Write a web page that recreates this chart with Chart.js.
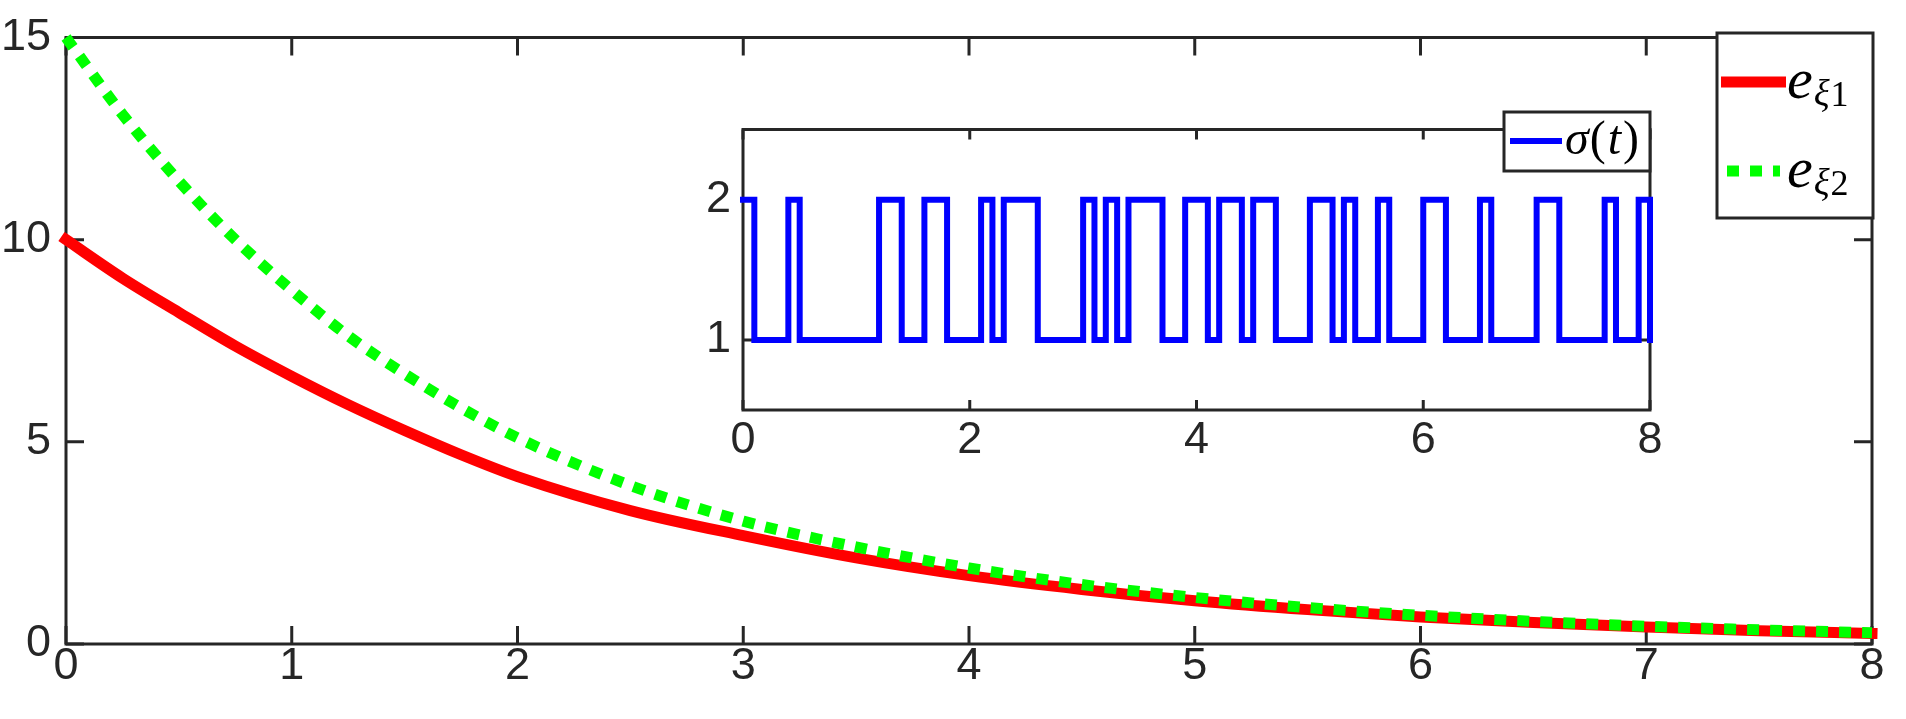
<!DOCTYPE html>
<html>
<head>
<meta charset="utf-8">
<script src="https://cdn.jsdelivr.net/npm/chart.js@4"></script>
<style>
  html, body { margin: 0; padding: 0; background: #fff; overflow: hidden; }
  #main { position: absolute; left: 0; top: 0; }
  #inset { position: absolute; left: 680px; top: 95px; }
</style>
</head>
<body>
<canvas id="main" width="1906" height="719"></canvas>
<canvas id="inset" width="1000" height="390"></canvas>
<script>
// main plot: error curves
const time = [0, 0.25, 0.5, 0.75, 1, 1.25, 1.5, 1.75, 2, 2.5, 3, 3.5, 4, 4.5, 5, 5.5, 6, 6.5, 7, 7.5, 8];
const eXi1 = [10, 9.05, 8.2, 7.37, 6.62, 5.92, 5.28, 4.68, 4.14, 3.3, 2.68, 2.13, 1.69, 1.35, 1.07, 0.85, 0.67, 0.53, 0.42, 0.33, 0.26];
const eXi2 = [15, 13.1, 11.45, 10.0, 8.75, 7.62, 6.68, 5.84, 5.1, 3.92, 3.04, 2.4, 1.88, 1.47, 1.15, 0.9, 0.71, 0.56, 0.44, 0.35, 0.28];

// inset: switching signal, value held from each switching time
const switchTime = [0, 0.1, 0.4, 0.5, 1.2, 1.4, 1.6, 1.8, 2.1, 2.2, 2.3, 2.6, 3.0, 3.1, 3.2, 3.3, 3.4, 3.7, 3.9, 4.1,
  4.2, 4.4, 4.5, 4.7, 5.0, 5.2, 5.3, 5.4, 5.6, 5.7, 6.0, 6.2, 6.5, 6.6, 7.0, 7.2, 7.6, 7.7, 7.9, 8.0];
const sigma = [2, 1, 2, 1, 2, 1, 2, 1, 2, 1, 2, 1, 2, 1, 2, 1, 2, 1, 2, 1,
  2, 1, 2, 1, 2, 1, 2, 1, 2, 1, 2, 1, 2, 1, 2, 1, 2, 1, 2, 1];

const mainXTicks = [0, 1, 2, 3, 4, 5, 6, 7, 8];
const mainYTicks = [0, 5, 10, 15];
const insetXTicks = [0, 2, 4, 6, 8];
const insetYTicks = [1, 2];

const axisColor = '#262626';
const tickFont = { family: '"Liberation Sans", Arial, sans-serif', size: 45, lineHeight: 1 };
const serif = '"Liberation Serif", "DejaVu Serif", serif';

// box round the plot area with inward ticks on all four sides (MATLAB style)
const boxPlugin = {
  id: 'matlabBox',
  beforeDraw(chart, args, o) {
    if (o.fill) {
      const a = chart.chartArea;
      chart.ctx.save();
      chart.ctx.fillStyle = o.fill;
      chart.ctx.fillRect(a.left, a.top, a.right - a.left, a.bottom - a.top);
      chart.ctx.restore();
    }
  },
  beforeDatasetsDraw(chart, args, o) {
    const { ctx, chartArea: a } = chart;
    const x = chart.scales.x, y = chart.scales.y;
    ctx.save();
    ctx.strokeStyle = axisColor;
    ctx.lineWidth = o.width;
    ctx.beginPath();
    x.ticks.forEach(t => {
      const px = x.getPixelForValue(t.value);
      ctx.moveTo(px, a.bottom); ctx.lineTo(px, a.bottom - o.len);
      ctx.moveTo(px, a.top); ctx.lineTo(px, a.top + o.len);
    });
    y.ticks.forEach(t => {
      const py = y.getPixelForValue(t.value);
      ctx.moveTo(a.left, py); ctx.lineTo(a.left + o.len, py);
      ctx.moveTo(a.right, py); ctx.lineTo(a.right - o.len, py);
    });
    ctx.stroke();
    ctx.strokeRect(a.left, a.top, a.right - a.left, a.bottom - a.top);
    ctx.restore();
  }
};

// legend with italic math labels and subscripts
const mathLegend = {
  id: 'mathLegend',
  afterDraw(chart, args, o) {
    const ctx = chart.ctx;
    ctx.save();
    ctx.fillStyle = '#fff';
    ctx.fillRect(o.x, o.y, o.w, o.h);
    ctx.strokeStyle = axisColor;
    ctx.lineWidth = 3;
    ctx.strokeRect(o.x, o.y, o.w, o.h);
    o.items.forEach(item => {
      const ds = chart.data.datasets[item.ds];
      ctx.save();
      ctx.strokeStyle = ds.borderColor;
      ctx.lineWidth = ds.borderWidth;
      ctx.setLineDash(ds.borderDash || []);
      ctx.lineCap = 'butt';
      ctx.beginPath();
      ctx.moveTo(item.x1, item.y);
      ctx.lineTo(item.x2, item.y);
      ctx.stroke();
      ctx.restore();
      let tx = item.tx;
      ctx.fillStyle = '#000';
      ctx.textBaseline = 'alphabetic';
      item.parts.forEach(p => {
        ctx.font = p.font;
        ctx.fillText(p.t, tx, item.base + (p.dy || 0));
        tx += ctx.measureText(p.t).width + (p.kern || 0);
      });
    });
    ctx.restore();
  }
};

function fixedTicks(list) {
  return scale => { scale.ticks = list.map(v => ({ value: v })); };
}

new Chart(document.getElementById('main'), {
  type: 'line',
  data: {
    datasets: [{
      label: 'e_xi1',
      data: time.map((t, i) => ({ x: t, y: eXi1[i] })),
      borderColor: '#ff0000',
      borderWidth: 11,
      borderCapStyle: 'square',
      cubicInterpolationMode: 'monotone',
      pointRadius: 0,
      clip: false,
      order: 1
    }, {
      label: 'e_xi2',
      data: time.map((t, i) => ({ x: t, y: eXi2[i] })),
      borderColor: '#00ff00',
      borderWidth: 11,
      borderDash: [12, 11],
      cubicInterpolationMode: 'monotone',
      pointRadius: 0,
      clip: false,
      order: 0
    }]
  },
  options: {
    responsive: false,
    animation: false,
    layout: { padding: { top: 33, right: 34, left: 0, bottom: 0 } },
    scales: {
      x: {
        type: 'linear', min: 0, max: 8,
        afterBuildTicks: fixedTicks(mainXTicks),
        afterFit: s => { s.height = 75; },
        grid: { display: false, drawTicks: false },
        border: { display: false },
        ticks: { font: tickFont, color: axisColor, padding: 0, maxRotation: 0, autoSkip: false }
      },
      y: {
        type: 'linear', min: 0, max: 15,
        afterBuildTicks: fixedTicks(mainYTicks),
        afterFit: s => { s.width = 66; },
        grid: { display: false, drawTicks: false },
        border: { display: false },
        ticks: { font: tickFont, color: axisColor, padding: 15, autoSkip: false }
      }
    },
    plugins: {
      legend: { display: false },
      tooltip: { enabled: false },
      matlabBox: { width: 3, len: 18 },
      mathLegend: {
        x: 1717, y: 33, w: 156, h: 185,
        items: [
          { ds: 0, x1: 1721, x2: 1786, y: 82, tx: 1787, base: 98,
            parts: [
              { t: 'e', font: 'italic 58px ' + serif, kern: 1 },
              { t: 'ξ', font: 'italic 37px ' + serif, dy: 8, kern: 1 },
              { t: '1', font: '36px ' + serif, dy: 8 }
            ] },
          { ds: 1, x1: 1727, x2: 1780, y: 171, tx: 1787, base: 187,
            parts: [
              { t: 'e', font: 'italic 58px ' + serif, kern: 1 },
              { t: 'ξ', font: 'italic 37px ' + serif, dy: 8, kern: 1 },
              { t: '2', font: '36px ' + serif, dy: 8 }
            ] }
        ]
      }
    }
  },
  plugins: [boxPlugin, mathLegend]
});

new Chart(document.getElementById('inset'), {
  type: 'line',
  data: {
    datasets: [{
      label: 'sigma',
      data: switchTime.map((t, i) => ({ x: t, y: sigma[i] })),
      borderColor: '#0000ff',
      borderWidth: 6,
      borderCapStyle: 'square',
      borderJoinStyle: 'miter',
      stepped: true,
      pointRadius: 0,
      clip: false
    }]
  },
  options: {
    responsive: false,
    animation: false,
    layout: { padding: { top: 14, right: 30, left: 0, bottom: 0 } },
    scales: {
      x: {
        type: 'linear', min: 0, max: 8,
        afterBuildTicks: fixedTicks(insetXTicks),
        afterFit: s => { s.height = 75; },
        grid: { display: false, drawTicks: false },
        border: { display: false },
        ticks: { font: tickFont, color: axisColor, padding: 8, maxRotation: 0, autoSkip: false }
      },
      y: {
        type: 'linear', min: 0.5, max: 2.5,
        afterBuildTicks: fixedTicks(insetYTicks),
        afterFit: s => { s.width = 63; },
        grid: { display: false, drawTicks: false },
        border: { display: false },
        ticks: { font: tickFont, color: axisColor, padding: 12, autoSkip: false }
      }
    },
    plugins: {
      legend: { display: false },
      tooltip: { enabled: false },
      matlabBox: { width: 3, len: 10, fill: '#fff' },
      mathLegend: {
        x: 824, y: 17, w: 146, h: 59,
        items: [
          { ds: 0, x1: 830, x2: 882, y: 46, tx: 885, base: 59,
            parts: [
              { t: 'σ', font: 'italic 48px ' + serif, kern: 1 },
              { t: '(', font: '48px ' + serif, kern: 2 },
              { t: 't', font: 'italic 48px ' + serif, kern: 2 },
              { t: ')', font: '48px ' + serif }
            ] }
        ]
      }
    }
  },
  plugins: [boxPlugin, mathLegend]
});
</script>
</body>
</html>
